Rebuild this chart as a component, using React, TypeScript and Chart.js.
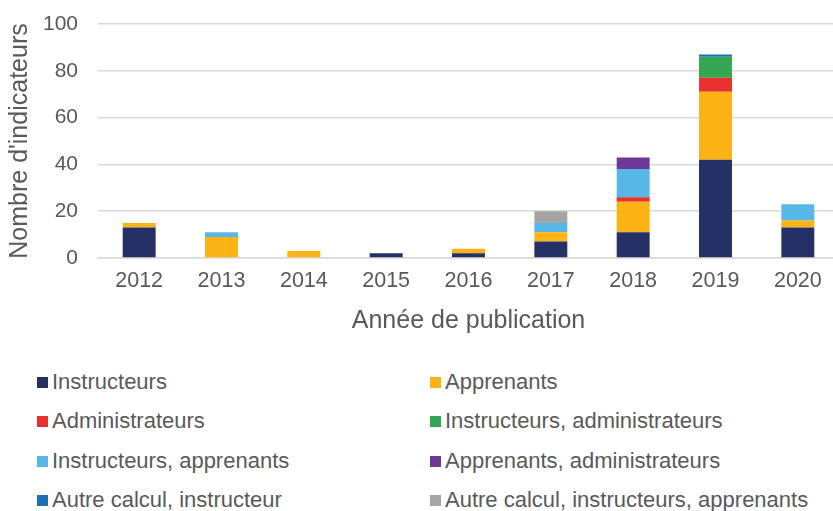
import React, { useEffect, useRef } from "react";
import { Chart, registerables } from "chart.js";

Chart.register(...registerables);

const years = ["2012", "2013", "2014", "2015", "2016", "2017", "2018", "2019", "2020"];
const seriesNames = [
  "Instructeurs",
  "Apprenants",
  "Administrateurs",
  "Instructeurs, administrateurs",
  "Instructeurs, apprenants",
  "Apprenants, administrateurs",
  "Autre calcul, instructeur",
  "Autre calcul, instructeurs, apprenants",
];
const instructeurs = [13, 0, 0, 2, 2, 7, 11, 42, 13];
const apprenants = [2, 9, 3, 0, 2, 4, 13, 29, 3];
const administrateurs = [0, 0, 0, 0, 0, 0, 2, 6, 0];
const instrAdmin = [0, 0, 0, 0, 0, 0, 0, 9, 0];
const instrAppr = [0, 2, 0, 0, 0, 4, 12, 0, 7];
const apprAdmin = [0, 0, 0, 0, 0, 0, 5, 0, 0];
const autreInstr = [0, 0, 0, 0, 0, 0, 0, 1, 0];
const autreInstrAppr = [0, 0, 0, 0, 0, 5, 0, 0, 0];
const seriesValues = [instructeurs, apprenants, administrateurs, instrAdmin, instrAppr, apprAdmin, autreInstr, autreInstrAppr];
const colors = ["#243066", "#FCB316", "#E8312E", "#33A752", "#57B8E7", "#6E3896", "#1B70B8", "#A5A5A5"];
const yTicks = [0, 20, 40, 60, 80, 100];

const FONT = "'Liberation Sans', Arial, sans-serif";
const TEXT = "#595959";

export default function App() {
  const ref = useRef<HTMLCanvasElement | null>(null);
  useEffect(() => {
    document.body.style.margin = "0";
    document.body.style.overflow = "hidden";
    const chart = new Chart(ref.current!, {
      type: "bar",
      data: {
        labels: years,
        datasets: seriesNames.map((name, i) => ({
          label: name,
          data: seriesValues[i],
          backgroundColor: colors[i],
          borderWidth: 0,
          barPercentage: 0.4,
          categoryPercentage: 1,
        })),
      },
      options: {
        animation: false,
        responsive: false,
        maintainAspectRatio: false,
        layout: { padding: { top: 24, right: 0, left: 0, bottom: 0 } },
        plugins: { legend: { display: false }, tooltip: { enabled: false } },
        scales: {
          x: {
            stacked: true,
            grid: { display: false, drawTicks: false },
            border: { display: true, color: "#d9d9d9", width: 1.5 },
            ticks: { color: TEXT, font: { family: FONT, size: 21.5 }, padding: 10 },
            title: {
              display: true,
              text: "Année de publication",
              color: TEXT,
              font: { family: FONT, size: 25 },
              padding: { top: 0, bottom: 4 },
            },
            afterFit: (s: any) => { s.height = 82; },
          },
          y: {
            stacked: true,
            min: 0,
            max: 100,
            afterBuildTicks: (s: any) => { s.ticks = yTicks.map((v) => ({ value: v })); },
            grid: { color: "#d9d9d9", lineWidth: 1.5, drawTicks: true, tickLength: 20, tickColor: "rgba(0,0,0,0)" },
            border: { display: false },
            ticks: { color: TEXT, font: { family: FONT, size: 21 }, padding: 0 },
            title: {
              display: true,
              text: "Nombre d'indicateurs",
              color: TEXT,
              font: { family: FONT, size: 25 },
              padding: { top: 5, bottom: 0 },
            },
            afterFit: (s: any) => { s.width = 98; },
          },
        },
      },
    });
    return () => chart.destroy();
  }, []);

  const rowY = [382, 421, 461, 500];
  const colX = [37, 430];
  return (
    <div style={{ position: "fixed", left: 0, top: 0, width: 833, height: 511, overflow: "hidden", background: "#fff" }}>
      <canvas ref={ref} width={839} height={340} style={{ position: "absolute", left: 0, top: 0, width: 839, height: 340 }} />
      {seriesNames.map((name, i) => {
        const r = Math.floor(i / 2);
        const c = i % 2;
        return (
          <div
            key={name}
            style={{
              position: "absolute",
              left: colX[c],
              top: rowY[r] - 14,
              height: 28,
              display: "flex",
              alignItems: "center",
              whiteSpace: "nowrap",
              fontFamily: FONT,
              fontSize: 22,
              color: TEXT,
            }}
          >
            <span style={{ display: "inline-block", width: 11, height: 11, background: colors[i], marginRight: 4 }} />
            <span>{name}</span>
          </div>
        );
      })}
    </div>
  );
}
